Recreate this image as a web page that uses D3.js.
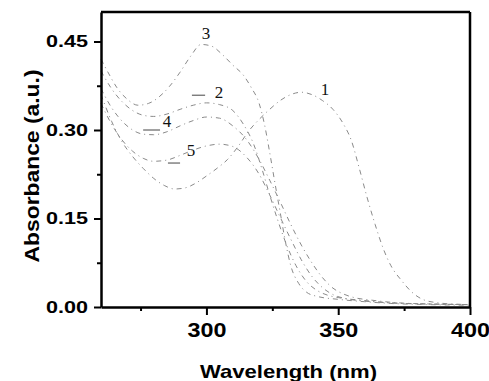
<!DOCTYPE html>
<html>
<head>
<meta charset="utf-8">
<script src="https://cdn.jsdelivr.net/npm/d3@7/dist/d3.min.js"></script>
<style>
  body { margin: 0; background: #fff; }
  svg { display: block; }
</style>
</head>
<body>
<svg id="chart" width="489" height="381"></svg>
<script>
// wavelength (nm) / absorbance pairs for each curve
var wl1 = [260,264,268,272,276,280,284,288,292,296,300,304,308,312,316,320,324,328,332,336,340,344,348,352,355,358,361,364,367,370,374,378,382,388,394,400]
var abs1 = [0.36,0.315,0.28,0.255,0.235,0.218,0.206,0.2,0.202,0.21,0.222,0.235,0.25,0.272,0.298,0.318,0.335,0.35,0.36,0.364,0.36,0.35,0.335,0.31,0.282,0.235,0.185,0.14,0.1,0.07,0.045,0.025,0.013,0.007,0.005,0.004]

var wl2 = [260,264,268,272,276,280,285,290,295,300,305,310,314,318,321,324,327,330,334,338,342,346,350,360,370,385,400]
var abs2 = [0.40,0.37,0.348,0.333,0.325,0.323,0.327,0.335,0.342,0.346,0.343,0.333,0.31,0.275,0.235,0.19,0.148,0.11,0.07,0.043,0.028,0.02,0.016,0.011,0.007,0.005,0.004]

var wl3 = [260,263,266,270,274,278,282,286,290,294,298,302,306,310,314,317,320,322,324,326,328,330,332,335,338,342,350,360,370,385,400]
var abs3 = [0.42,0.395,0.372,0.352,0.342,0.345,0.356,0.374,0.398,0.425,0.445,0.442,0.428,0.41,0.393,0.372,0.345,0.31,0.262,0.21,0.16,0.11,0.07,0.04,0.025,0.018,0.013,0.009,0.006,0.004,0.003]

var wl4 = [260,264,268,272,276,280,285,290,295,300,305,310,315,320,324,328,332,336,340,344,348,352,356,362,370,385,400]
var abs4 = [0.37,0.338,0.315,0.3,0.293,0.292,0.297,0.307,0.316,0.322,0.32,0.307,0.285,0.25,0.215,0.178,0.14,0.105,0.075,0.05,0.032,0.022,0.016,0.012,0.008,0.005,0.004]

var wl5 = [260,264,268,272,276,280,285,290,295,300,305,310,315,320,324,328,332,336,340,344,348,352,360,370,385,400]
var abs5 = [0.345,0.31,0.283,0.264,0.252,0.247,0.249,0.257,0.266,0.273,0.276,0.272,0.255,0.225,0.19,0.152,0.115,0.08,0.052,0.033,0.021,0.015,0.01,0.007,0.005,0.004]

var xTicks = [300, 350, 400]
var xMinor = [275, 325, 375]
var yTicks = [0, 0.15, 0.30, 0.45]
var yMinor = [0.075, 0.225, 0.375]

// curve number labels: [name, nm, absorbance]
var curveLabels = [["1", 345, 0.368], ["2", 304.8, 0.364], ["3", 299.8, 0.464], ["4", 285, 0.314], ["5", 294.1, 0.266]]
// short leader dashes next to labels: [nm start, nm end, absorbance]
var leaders = [[294.5, 299.5, 0.359], [276, 282.4, 0.30], [285.4, 290, 0.244]]

var svg = d3.select("#chart")
var plotLeft = 101, plotRight = 470, plotTop = 12, plotBottom = 307

var x = d3.scaleLinear().domain([260, 400]).range([plotLeft, plotRight])
var y = d3.scaleLinear().domain([0, 0.5]).range([plotBottom, plotTop])

var series = [[wl1, abs1], [wl2, abs2], [wl3, abs3], [wl4, abs4], [wl5, abs5]]

var line = d3.line()
    .x(function(d){ return x(d[0]) })
    .y(function(d){ return y(d[1]) })
    .curve(d3.curveMonotoneX)

series.forEach(function(s){
    var pts = s[0].map(function(w, i){ return [w, s[1][i]] })
    svg.append("path")
        .datum(pts)
        .attr("d", line)
        .attr("fill", "none")
        .attr("stroke", "#8a8a8a")
        .attr("stroke-width", 1)
        .attr("stroke-dasharray", "5,4,1,4")
})

svg.selectAll(".leader").data(leaders).enter().append("line")
    .attr("x1", function(d){ return x(d[0]) })
    .attr("x2", function(d){ return x(d[1]) })
    .attr("y1", function(d){ return y(d[2]) })
    .attr("y2", function(d){ return y(d[2]) })
    .attr("stroke", "#444")
    .attr("stroke-width", 1)

svg.selectAll(".clabel").data(curveLabels).enter().append("text")
    .attr("x", function(d){ return x(d[1]) })
    .attr("y", function(d){ return y(d[2]) })
    .attr("text-anchor", "middle")
    .attr("dominant-baseline", "central")
    .attr("font-family", "Liberation Serif, Times New Roman, serif")
    .attr("font-size", 17)
    .attr("fill", "#111")
    .text(function(d){ return d[0] })

// frame top and right
svg.append("line").attr("x1", plotLeft).attr("x2", plotRight).attr("y1", plotTop).attr("y2", plotTop)
    .attr("stroke", "#000").attr("stroke-width", 2.5)
svg.append("line").attr("x1", plotRight).attr("x2", plotRight).attr("y1", plotTop).attr("y2", plotBottom)
    .attr("stroke", "#000").attr("stroke-width", 2.5)

var xAxis = svg.append("g").attr("transform", "translate(0," + plotBottom + ")")
    .call(d3.axisBottom(x).tickValues(xTicks).tickSize(8).tickSizeOuter(0).tickFormat(d3.format("d")))
var xMin = svg.append("g").attr("transform", "translate(0," + plotBottom + ")")
    .call(d3.axisBottom(x).tickValues(xMinor).tickSize(4).tickSizeOuter(0).tickFormat(""))

var yAxis = svg.append("g").attr("transform", "translate(" + plotLeft + ",0)")
    .call(d3.axisLeft(y).tickValues(yTicks).tickSize(7).tickSizeOuter(0).tickFormat(d3.format(".2f")))
var yMin = svg.append("g").attr("transform", "translate(" + plotLeft + ",0)")
    .call(d3.axisLeft(y).tickValues(yMinor).tickSize(4).tickSizeOuter(0).tickFormat(""))

svg.selectAll(".domain").attr("stroke", "#000").attr("stroke-width", 2.5)
svg.selectAll(".tick line").attr("stroke", "#000").attr("stroke-width", 2)
xMin.select(".domain").remove()
yMin.select(".domain").remove()

xAxis.selectAll("text")
    .attr("y", 30).attr("dy", null)
    .attr("font-family", "Liberation Sans, Arial, sans-serif")
    .attr("font-weight", "bold")
    .attr("font-size", 21)
    .attr("fill", "#000")
    .attr("textLength", 39)
    .attr("lengthAdjust", "spacingAndGlyphs")

yAxis.selectAll("text")
    .attr("x", -13)
    .attr("font-family", "Liberation Sans, Arial, sans-serif")
    .attr("font-weight", "bold")
    .attr("font-size", 17)
    .attr("fill", "#000")
    .attr("textLength", 42)
    .attr("lengthAdjust", "spacingAndGlyphs")

svg.append("text")
    .attr("x", (plotLeft + plotRight) / 2 + 3)
    .attr("y", 378)
    .attr("text-anchor", "middle")
    .attr("font-family", "Liberation Sans, Arial, sans-serif")
    .attr("font-weight", "bold")
    .attr("font-size", 19)
    .attr("textLength", 177)
    .attr("lengthAdjust", "spacingAndGlyphs")
    .text("Wavelength (nm)")

svg.append("text")
    .attr("transform", "translate(39,166) rotate(-90)")
    .attr("text-anchor", "middle")
    .attr("font-family", "Liberation Sans, Arial, sans-serif")
    .attr("font-weight", "bold")
    .attr("font-size", 20)
    .attr("textLength", 193)
    .attr("lengthAdjust", "spacingAndGlyphs")
    .text("Absorbance (a.u.)")
</script>
</body>
</html>
